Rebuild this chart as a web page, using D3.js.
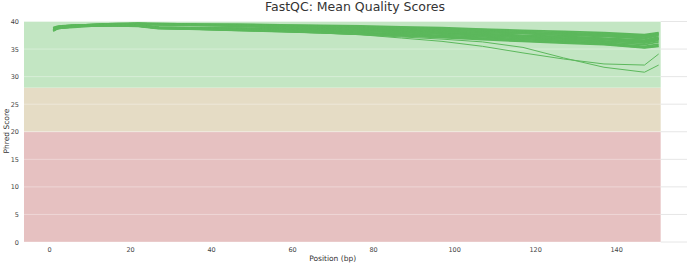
<!DOCTYPE html>
<html>
<head>
<meta charset="utf-8">
<script src="https://cdn.jsdelivr.net/npm/d3@7"></script>
<style>
  body { margin: 0; background: #fff; }
  text { font-family: "DejaVu Sans", sans-serif; }
</style>
</head>
<body>
<div id="chart"></div>
<script>
// Positions (bp) where each sample's mean quality was read
const positions = [1, 2, 3, 5, 7, 9, 12, 17, 22, 27, 37, 47, 57, 67, 77, 87, 97, 107, 117, 127, 137, 147, 150.5];

// Mean Phred score per sample (main group)
const samples = [
  [38.9, 39.1, 39.2, 39.3, 39.4, 39.4, 39.5, 39.6, 39.7, 39.6, 39.5, 39.5, 39.4, 39.3, 39.2, 39.0, 38.9, 38.6, 38.4, 38.2, 38.0, 37.6, 38.0],
  [38.8, 39.0, 39.1, 39.3, 39.3, 39.4, 39.5, 39.6, 39.6, 39.6, 39.5, 39.4, 39.3, 39.2, 39.0, 38.9, 38.7, 38.5, 38.2, 38.0, 37.8, 37.4, 37.9],
  [38.7, 39.0, 39.1, 39.2, 39.3, 39.4, 39.4, 39.5, 39.6, 39.5, 39.4, 39.3, 39.2, 39.1, 38.9, 38.7, 38.5, 38.3, 38.0, 37.8, 37.6, 37.2, 37.7],
  [38.7, 39.0, 39.1, 39.2, 39.3, 39.4, 39.4, 39.5, 39.6, 39.5, 39.4, 39.3, 39.2, 39.0, 38.8, 38.6, 38.4, 38.2, 37.9, 37.7, 37.4, 37.0, 37.6],
  [38.6, 38.9, 39.0, 39.2, 39.3, 39.3, 39.4, 39.5, 39.6, 39.5, 39.4, 39.3, 39.1, 38.9, 38.7, 38.5, 38.3, 38.0, 37.8, 37.5, 37.3, 36.9, 37.5],
  [38.8, 39.0, 39.1, 39.2, 39.3, 39.4, 39.4, 39.5, 39.5, 39.5, 39.3, 39.2, 39.0, 38.8, 38.6, 38.3, 38.1, 37.8, 37.5, 37.3, 37.0, 36.6, 37.2],
  [38.5, 38.9, 39.0, 39.1, 39.2, 39.3, 39.4, 39.4, 39.5, 39.4, 39.3, 39.1, 38.9, 38.7, 38.4, 38.1, 37.9, 37.6, 37.3, 37.0, 36.8, 36.3, 36.9],
  [38.6, 38.9, 39.0, 39.1, 39.2, 39.3, 39.3, 39.4, 39.4, 39.0, 38.9, 38.8, 38.7, 38.6, 38.4, 38.2, 38.0, 37.7, 37.4, 37.2, 36.9, 36.5, 37.0],
  [38.5, 38.8, 39.0, 39.1, 39.2, 39.2, 39.3, 39.4, 39.4, 38.9, 38.8, 38.8, 38.6, 38.5, 38.3, 38.1, 37.8, 37.5, 37.2, 37.0, 36.7, 36.3, 36.8],
  [38.4, 38.8, 38.9, 39.1, 39.2, 39.2, 39.3, 39.4, 39.3, 38.9, 38.8, 38.7, 38.6, 38.4, 38.2, 38.0, 37.7, 37.4, 37.1, 36.8, 36.5, 36.1, 36.6],
  [38.3, 38.7, 38.9, 39.0, 39.1, 39.2, 39.3, 39.3, 39.3, 38.9, 38.7, 38.6, 38.5, 38.3, 38.0, 37.8, 37.5, 37.2, 36.9, 36.6, 36.3, 35.8, 36.3],
  [38.5, 38.8, 38.9, 39.0, 39.1, 39.2, 39.2, 39.3, 39.2, 38.8, 38.7, 38.6, 38.4, 38.2, 37.9, 37.6, 37.3, 37.0, 36.7, 36.4, 36.1, 35.5, 35.9],
  [38.3, 38.7, 38.8, 39.0, 39.1, 39.1, 39.2, 39.3, 39.2, 38.8, 38.6, 38.5, 38.3, 38.1, 37.8, 37.5, 37.2, 36.9, 36.5, 36.2, 35.9, 35.3, 35.6],
  [38.4, 38.7, 38.8, 38.9, 39.0, 39.1, 39.2, 39.2, 39.1, 38.7, 38.6, 38.4, 38.2, 38.0, 37.7, 37.4, 37.1, 36.7, 36.4, 36.1, 35.8, 35.2, 35.5]
];

// Two samples whose quality drops off toward the 3' end
const outliers = [
  [38.5, 38.8, 38.9, 39.0, 39.1, 39.2, 39.2, 39.3, 39.2, 38.8, 38.6, 38.4, 38.2, 37.9, 37.6, 37.0, 36.4, 35.5, 34.3, 33.2, 32.3, 32.1, 34.1],
  [38.4, 38.7, 38.8, 39.0, 39.1, 39.1, 39.2, 39.2, 39.1, 38.7, 38.5, 38.3, 38.1, 37.9, 37.6, 37.2, 36.8, 36.3, 35.3, 33.4, 31.7, 30.8, 32.1]
];

// Quality bands
const bandNames = ["fail", "warn", "pass"];
const bandFrom = [0, 20, 28];
const bandTo = [20, 28, 40];
const bandColors = ["#e6c1c1", "#e5dcc5", "#c3e6c3"];

const xTicks = [0, 20, 40, 60, 80, 100, 120, 140];
const yTicks = [0, 5, 10, 15, 20, 25, 30, 35, 40];
const maxPos = 151;

const W = 689, H = 264;
const margin = { top: 21.5, right: 2, bottom: 22, left: 24 };

const svg = d3.select("#chart")
  .append("svg")
  .attr("width", W)
  .attr("height", H);

const x = d3.scaleLinear()
  .domain([-6.2, 157.5])
  .range([margin.left, W - margin.right]);

const y = d3.scaleLinear()
  .domain([0, 40])
  .range([H - margin.bottom, margin.top]);

// Background bands
svg.selectAll(".band")
  .data(bandNames)
  .enter()
  .append("rect")
  .attr("class", "band")
  .attr("x", x.range()[0])
  .attr("width", x(maxPos) - x.range()[0])
  .attr("y", (d, i) => y(bandTo[i]))
  .attr("height", (d, i) => y(bandFrom[i]) - y(bandTo[i]))
  .attr("fill", (d, i) => bandColors[i]);

// Grid lines: light over the bands, grey beyond them
svg.selectAll(".grid-in")
  .data(yTicks)
  .enter()
  .append("line")
  .attr("x1", x.range()[0])
  .attr("x2", x(maxPos))
  .attr("y1", d => y(d))
  .attr("y2", d => y(d))
  .attr("stroke", "rgba(255,255,255,0.35)")
  .attr("stroke-width", 1);

svg.selectAll(".grid-out")
  .data(yTicks)
  .enter()
  .append("line")
  .attr("x1", x(maxPos))
  .attr("x2", x.range()[1])
  .attr("y1", d => y(d))
  .attr("y2", d => y(d))
  .attr("stroke", "#e6e6e6")
  .attr("stroke-width", 1);

// Sample lines
const line = d3.line()
  .x((d, i) => x(positions[i]))
  .y(d => y(d));

svg.selectAll(".sample")
  .data(samples)
  .enter()
  .append("path")
  .attr("class", "sample")
  .attr("d", line)
  .attr("fill", "none")
  .attr("stroke", "#5cb85c")
  .attr("stroke-width", 1.8)
  .attr("stroke-linejoin", "round");

svg.selectAll(".outlier")
  .data(outliers)
  .enter()
  .append("path")
  .attr("class", "outlier")
  .attr("d", line)
  .attr("fill", "none")
  .attr("stroke", "#5cb85c")
  .attr("stroke-width", 1);

// Axes
const xAxis = svg.append("g")
  .attr("transform", `translate(0,${y(0) + 3})`)
  .call(d3.axisBottom(x).tickValues(xTicks).tickSize(0).tickPadding(2));

const yAxis = svg.append("g")
  .attr("transform", `translate(${x.range()[0] - 5},0)`)
  .call(d3.axisLeft(y).tickValues(yTicks).tickSize(0).tickPadding(0));

[xAxis, yAxis].forEach(g => {
  g.select(".domain").remove();
  g.selectAll("text")
    .attr("font-family", "DejaVu Sans, sans-serif")
    .attr("font-size", 6.5)
    .attr("fill", "#444");
});

// Title
svg.append("text")
  .attr("x", 355)
  .attr("y", 10.5)
  .attr("text-anchor", "middle")
  .attr("font-size", 12.5)
  .attr("fill", "#333")
  .text("FastQC: Mean Quality Scores");

// X-axis label
svg.append("text")
  .attr("x", x(70))
  .attr("y", 261)
  .attr("text-anchor", "middle")
  .attr("font-size", 7.5)
  .attr("fill", "#333")
  .text("Position (bp)");

// Y-axis label
svg.append("text")
  .attr("transform", "rotate(-90)")
  .attr("x", -131)
  .attr("y", 8.5)
  .attr("text-anchor", "middle")
  .attr("font-size", 7.5)
  .attr("fill", "#333")
  .text("Phred Score");
</script>
</body>
</html>
